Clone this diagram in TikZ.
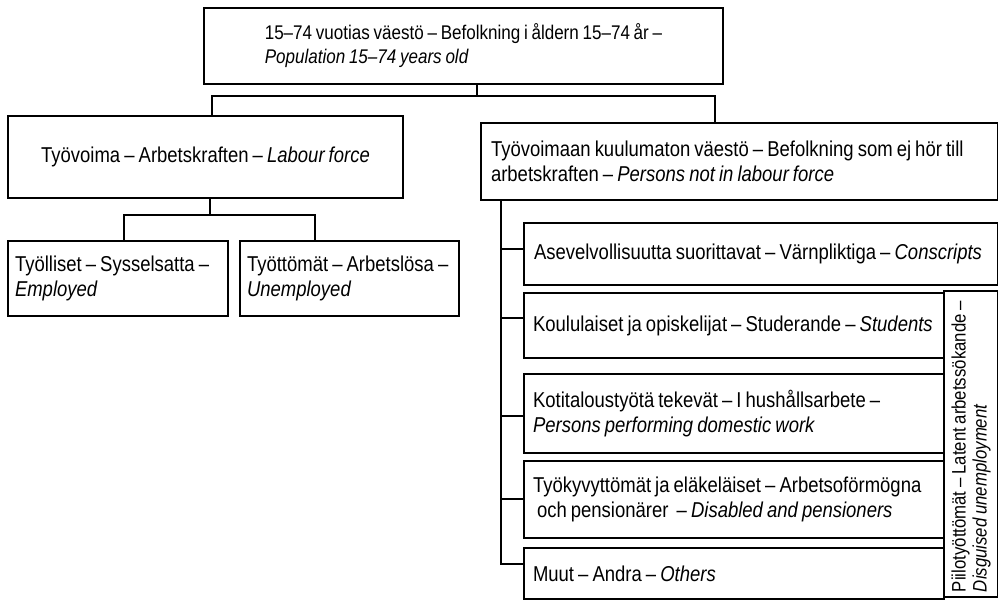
\documentclass[tikz,border=0pt]{standalone}
\usepackage{fontspec}
\setmainfont{Liberation Sans}[FakeStretch=0.86, WordSpace=0.65]

\tikzstyle{block} = [rectangle, draw, line width=2pt, anchor=north west, inner xsep=10pt, inner ysep=0pt, align=left,
    font=\fontsize{21.5}{25}\selectfont, execute at begin node={\spaceskip=0.19em plus 0.1em minus 0.03em\relax}]
\tikzstyle{link} = [draw, line width=2pt]

\begin{document}
\begin{tikzpicture}[x=1pt, y=-1pt]
        \useasboundingbox (0,0) rectangle (998,601);
        % Whole population
        \node (top) at (203,7) [block, minimum width=519pt, minimum height=76pt,
            font=\fontsize{19.8}{24}\selectfont] {
            15–74 vuotias väestö – Befolkning i åldern 15–74 år –\\
            \textit{Population 15–74 years old}};
        % Labour force and its parts
        \node (lab) at (7,115) [block, minimum width=395pt, minimum height=82pt] {
            Työvoima – Arbetskraften – \textit{Labour force}};
        \node (emp) at (7,240) [block, inner xsep=7pt, text width=206pt, minimum height=75pt] {
            Työlliset – Sysselsatta –\\ \textit{Employed}};
        \node (unemp) at (239,240) [block, inner xsep=7pt, text width=205pt, minimum height=75pt] {
            Työttömät – Arbetslösa –\\ \textit{Unemployed}};
        % Persons not in labour force
        \node (notlab) at (480,122) [block, text width=497pt, minimum height=77pt] {
            Työvoimaan kuulumaton väestö – Befolkning som ej hör till\\
            arbetskraften – \textit{Persons not in labour force}};
        \node (consc) at (523,222) [block, inner xsep=10pt, text width=454pt, minimum height=62pt] {
            Asevelvollisuutta suorittavat – Värnpliktiga – \textit{Conscripts}};
        \node (stud) at (523,292) [block, inner xsep=9pt, text width=402pt, minimum height=65pt] {
            Koululaiset ja opiskelijat – Studerande – \textit{Students}};
        \node (dom) at (523,373) [block, inner xsep=9pt, text width=402pt, minimum height=79pt] {
            Kotitaloustyötä tekevät – I hushållsarbete –\\
            \textit{Persons performing domestic work}};
        \node (dis) at (523,460) [block, inner xsep=9pt, text width=402pt, minimum height=77pt] {
            Työkyvyttömät ja eläkeläiset – Arbetsoförmögna\\
            \hspace*{4pt}och pensionärer \ – \textit{Disabled and pensioners}};
        \node (oth) at (523,547) [block, inner xsep=9pt, text width=402pt, minimum height=51pt] {
            Muut – Andra – \textit{Others}};
        % Side box with rotated text
        \node (latent) at (943,598) [block, rotate=90, inner xsep=5pt, text width=296pt, minimum height=54pt,
            font=\fontsize{19.5}{21}\selectfont] {
            Piilotyöttömät – Latent arbetssökande –\\
            \textit{Disguised unemployment}};

        % Connectors
        \coordinate (split) at (477,96);
        \coordinate (labsplit) at (210,215);
        \coordinate (trunk) at (501,199);
        \draw[link] (top.south -| split) -- (split);
        \draw[link] ([xshift=6pt]lab.north) |- (split) -| ([xshift=-25pt]notlab.north);
        \draw[link] (lab.south -| labsplit) -- (labsplit);
        \draw[link] ([xshift=6pt]emp.north) |- (labsplit) -| ([xshift=-35pt]unemp.north);
        \draw[link] ([yshift=10pt]oth.west) -| (trunk);
        \foreach \n/\s in {consc/5, stud/7, dom/-2, dis/1}
            \draw[link] ([yshift=\s pt]\n.west) -| (trunk);
\end{tikzpicture}
\end{document}
